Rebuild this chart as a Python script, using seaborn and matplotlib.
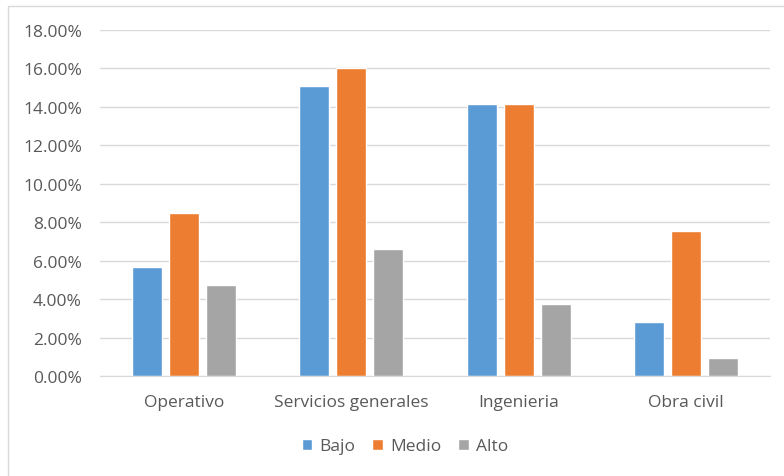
import pandas as pd
import seaborn as sns
import matplotlib.pyplot as plt
from matplotlib.patches import Rectangle
from matplotlib.ticker import PercentFormatter

categorias = ["Operativo", "Servicios generales", "Ingenieria", "Obra civil"]
bajo = [0.0566, 0.1509, 0.1415, 0.0283]
medio = [0.0849, 0.1604, 0.1415, 0.0755]
alto = [0.0472, 0.0660, 0.0377, 0.0094]
niveles = ["Bajo", "Medio", "Alto"]
colores = ["#5B9BD5", "#ED7D31", "#A5A5A5"]

data = pd.DataFrame({
    "categoria": categorias * 3,
    "nivel": [n for n in niveles for _ in categorias],
    "valor": bajo + medio + alto,
})

sns.set_style("white")
plt.rcParams["font.family"] = ["Open Sans", "DejaVu Sans"]
gris = "#595959"

fig = plt.figure(figsize=(7.84, 4.77), dpi=100)
ax = fig.add_axes([0.1276, 0.2096, 0.8544, 0.7254])

sns.barplot(data=data, x="categoria", y="valor", hue="nivel", hue_order=niveles,
            palette=colores, width=0.663, gap=0.19, saturation=1, ax=ax)

ax.set_ylim(0, 0.18)
ax.set_xlim(-0.5, 3.5)
ax.set_yticks([i * 0.02 for i in range(10)])
ax.yaxis.set_major_formatter(PercentFormatter(1.0, decimals=2))
ax.grid(axis="y", color="#D9D9D9", lw=1)
ax.set_axisbelow(True)
for s in ["top", "right", "left"]:
    ax.spines[s].set_visible(False)
ax.spines["bottom"].set_color("#D9D9D9")
ax.tick_params(length=0, labelsize=12.5, colors=gris)
ax.tick_params(axis="y", pad=13)
ax.tick_params(axis="x", pad=13)
ax.set_xlabel("")
ax.set_ylabel("")

ax.legend(loc="upper center", bbox_to_anchor=(0.455, -0.135), ncol=3, frameon=False,
          fontsize=12.5, handlelength=0.6, handleheight=0.6, handletextpad=0.4,
          columnspacing=1.0, labelcolor=gris)

fig.add_artist(Rectangle((8 / 784, -0.1), 1.2, 1 - 6.5 / 477 + 0.1,
                         transform=fig.transFigure, fill=False,
                         edgecolor="#D9D9D9", lw=1, clip_on=False))

fig.savefig("out.png", dpi=100)
